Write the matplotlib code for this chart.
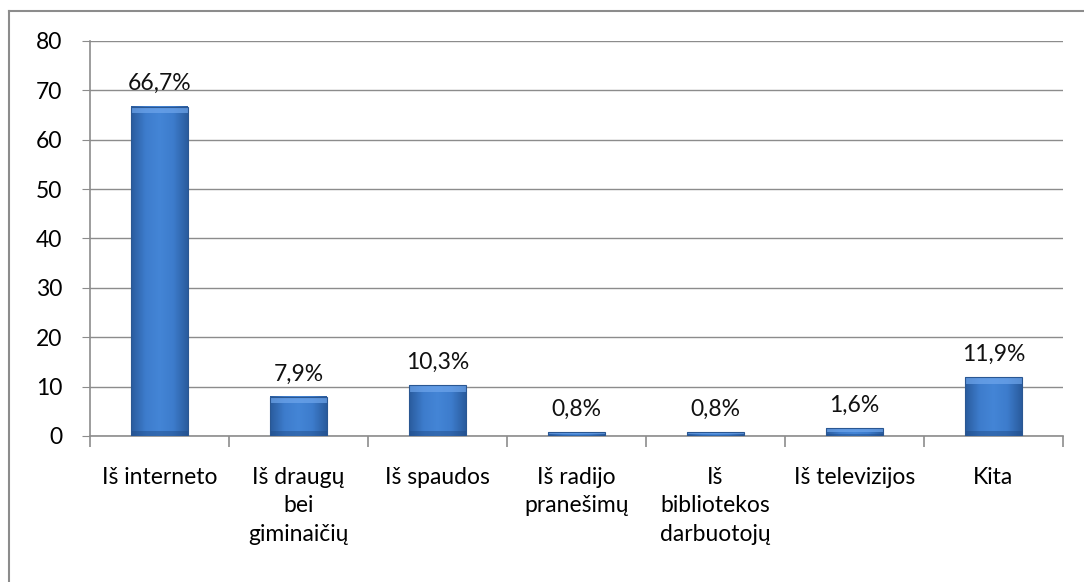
import numpy as np
import matplotlib.pyplot as plt
from matplotlib.patches import Rectangle
from matplotlib.lines import Line2D
from matplotlib.colors import LinearSegmentedColormap

# data
categories = ['Iš interneto', 'Iš draugų\nbei\ngiminaičių', 'Iš spaudos',
              'Iš radijo\npranešimų', 'Iš\nbibliotekos\ndarbuotojų',
              'Iš televizijos', 'Kita']
values = [66.7, 7.9, 10.3, 0.8, 0.8, 1.6, 11.9]
labels = ['66,7%', '7,9%', '10,3%', '0,8%', '0,8%', '1,6%', '11,9%']
yticks = [0, 10, 20, 30, 40, 50, 60, 70, 80]

plt.rcParams['font.family'] = ['Lato', 'DejaVu Sans']
grid_col = '#8c8c8c'
fs = 16.5

fig = plt.figure(figsize=(10.84, 5.82), dpi=100)
ax = fig.add_axes([0.083, 0.2509, 0.8976, 0.6787])

x = np.arange(len(categories))
bars = ax.bar(x, values, width=0.41, color='#3f7fcf', zorder=3)

# shading: horizontal gradient darker at the edges
shade = LinearSegmentedColormap.from_list('shade', ['#2a5c9e', '#3d7ccc', '#4485d6', '#3d7ccc', '#2a5c9e'])
grad = np.linspace(0, 1, 64).reshape(1, -1)
for b in bars:
    x0, w, h = b.get_x(), b.get_width(), b.get_height()
    b.set_visible(False)
    ax.imshow(grad, cmap=shade, extent=(x0, x0 + w, 0, h), aspect='auto', zorder=3)
    # top bevel lighter, bottom a bit darker
    bev = min(h * 0.5, 1.3)
    ax.add_patch(Rectangle((x0, h - bev), w, bev, facecolor='#6fa6ec', edgecolor='none', alpha=0.7, zorder=4))
    ax.add_patch(Rectangle((x0, 0), w, min(h * 0.3, 1.0), facecolor='#1f4a85', edgecolor='none', alpha=0.45, zorder=4))
    ax.add_patch(Rectangle((x0, 0), w, h, facecolor='none', edgecolor='#2a5792', linewidth=0.8, zorder=5))

for xi, v, lab in zip(x, values, labels):
    ax.annotate(lab, (xi, v), xytext=(0, 9), textcoords='offset points',
                ha='center', va='bottom', fontsize=fs, color='#111111')

ax.set_xlim(-0.5, len(categories) - 0.5)
ax.set_ylim(0, 80)
ax.set_yticks(yticks)
ax.tick_params(axis='y', labelsize=fs, length=6, color=grid_col, pad=14)
ax.set_xticks(x)
ax.set_xticklabels(categories, fontsize=fs, linespacing=1.45, va='top')
ax.tick_params(axis='x', length=0, pad=22)
ax.set_xticks(np.arange(-0.5, len(categories)), minor=True)
ax.tick_params(axis='x', which='minor', length=8, color=grid_col, width=1.2)
ax.yaxis.grid(True, color=grid_col, linewidth=1.0, zorder=0)
ax.set_axisbelow(True)
for s in ['top', 'right']:
    ax.spines[s].set_visible(False)
for s in ['left', 'bottom']:
    ax.spines[s].set_color(grid_col)
    ax.spines[s].set_linewidth(1.2)

# outer border of the chart (only top and left are inside the image)
fig.lines.append(Line2D([0.008, 0.008], [0, 0.981], transform=fig.transFigure, color=grid_col, linewidth=1.5))
fig.lines.append(Line2D([0.008, 1.0], [0.981, 0.981], transform=fig.transFigure, color=grid_col, linewidth=1.5))

fig.savefig('out.png', dpi=100)
